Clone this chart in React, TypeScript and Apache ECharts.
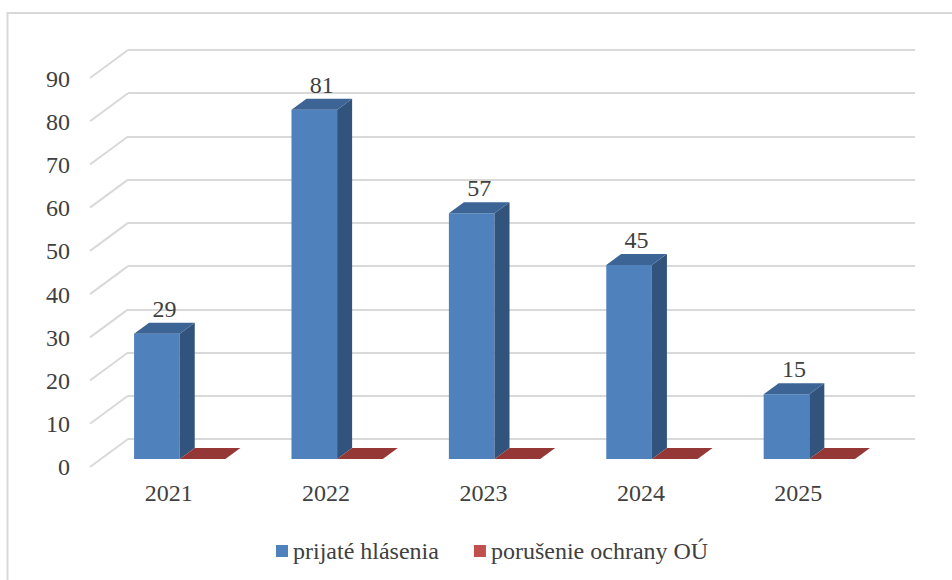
import React, { useEffect, useRef } from "react";
import * as echarts from "echarts";

const categories = ["2021", "2022", "2023", "2024", "2025"];
const receivedReports = [29, 81, 57, 45, 15];
const breaches = [0, 0, 0, 0, 0];
const yTicks = [0, 10, 20, 30, 40, 50, 60, 70, 80, 90];
const seriesNames = ["prijaté hlásenia", "porušenie ochrany OÚ"];

const FONT = "Liberation Serif";
const FONT_SIZE = 24;
const TEXT = "#404040";
const GRID_COLOR = "#D9D9D9";
const FLOOR_DX = 38;
const FLOOR_DY = 28;
const DEPTH_FRAC = 0.29;
const BAR_DX = 15;
const BAR_DY = 11;
const BAR_W_FRAC = 0.29;

function makeBarRender(side: "left" | "right", front: string, sideCol: string, top: string, showLabel: boolean) {
  return (params: any, api: any) => {
    const cat = api.value(0);
    const v = api.value(1);
    const p0 = api.coord([cat, 0]);
    const p1 = api.coord([cat, v]);
    const band = api.size([1, 0])[0];
    const w = band * BAR_W_FRAC;
    const ox = FLOOR_DX * DEPTH_FRAC;
    const oy = -FLOOR_DY * DEPTH_FRAC;
    const xL = side === "left" ? p0[0] + ox - w : p0[0] + ox;
    const xR = xL + w;
    const yB = p0[1] + oy;
    const yT = p1[1] + oy;
    const children: any[] = [];
    if (yB - yT > 0.5) {
      children.push({
        type: "polygon",
        shape: { points: [[xL, yB], [xR, yB], [xR, yT], [xL, yT]] },
        style: { fill: front },
      });
      children.push({
        type: "polygon",
        shape: { points: [[xR, yB], [xR + BAR_DX, yB - BAR_DY], [xR + BAR_DX, yT - BAR_DY], [xR, yT]] },
        style: { fill: sideCol },
      });
    }
    children.push({
      type: "polygon",
      shape: { points: [[xL, yT], [xR, yT], [xR + BAR_DX, yT - BAR_DY], [xL + BAR_DX, yT - BAR_DY]] },
      style: { fill: top },
    });
    if (showLabel) {
      children.push({
        type: "text",
        x: (xL + xR) / 2 + BAR_DX / 2,
        y: yT - BAR_DY - 14,
        style: {
          text: String(v),
          fill: TEXT,
          fontFamily: FONT,
          fontSize: FONT_SIZE,
          align: "center",
          verticalAlign: "middle",
        },
      });
    }
    return { type: "group", children };
  };
}

function App() {
  const ref = useRef<HTMLDivElement>(null);
  useEffect(() => {
    if (!ref.current) return;
    const chart = echarts.init(ref.current, undefined, { renderer: "svg" });
    const option: any = {
      animation: false,
      graphic: [
        {
          type: "rect",
          shape: { x: 7.5, y: 13, width: 1000, height: 700 },
          style: { fill: "none", stroke: GRID_COLOR, lineWidth: 2 },
          silent: true,
        },
      ],
      legend: {
        left: 276,
        top: 539,
        padding: 0,
        icon: "rect",
        itemWidth: 12,
        itemHeight: 12,
        itemGap: 35,
        data: seriesNames,
        textStyle: { fontFamily: FONT, fontSize: FONT_SIZE, color: TEXT },
      },
      grid: [
        { left: 128, top: 50, width: 787, height: 389 },
        { left: 90, top: 79, width: 787, height: 388 },
      ],
      xAxis: [
        { type: "category", gridIndex: 0, data: categories, show: false },
        {
          type: "category",
          gridIndex: 1,
          data: categories,
          axisLine: { show: false },
          axisTick: { show: false },
          axisLabel: { fontFamily: FONT, fontSize: FONT_SIZE, color: TEXT, margin: 14 },
        },
      ],
      yAxis: [
        {
          type: "value",
          gridIndex: 0,
          min: 0,
          max: 90,
          interval: 10,
          axisLine: { show: false },
          axisTick: { show: false },
          axisLabel: { show: false },
          splitLine: { show: true, showMinLine: true, showMaxLine: true, lineStyle: { color: GRID_COLOR, width: 2 } },
        },
        {
          type: "value",
          gridIndex: 1,
          min: 0,
          max: 90,
          interval: 10,
          axisLine: { show: false },
          axisTick: { show: false },
          splitLine: { show: false },
          axisLabel: { fontFamily: FONT, fontSize: FONT_SIZE, color: TEXT, margin: 20 },
        },
      ],
      series: [
        {
          type: "custom",
          name: "wall",
          xAxisIndex: 0,
          yAxisIndex: 0,
          silent: true,
          data: yTicks.map((t) => [0, t]),
          renderItem: (params: any, api: any) => {
            const y = api.coord([0, api.value(1)])[1];
            const x0 = params.coordSys.x;
            return {
              type: "line",
              shape: { x1: x0, y1: y, x2: x0 - FLOOR_DX, y2: y + FLOOR_DY },
              style: { stroke: GRID_COLOR, lineWidth: 2 },
            };
          },
        },
        {
          type: "custom",
          name: seriesNames[0],
          xAxisIndex: 1,
          yAxisIndex: 1,
          itemStyle: { color: "#4F81BD" },
          data: receivedReports.map((v, i) => [i, v]),
          renderItem: makeBarRender("left", "#4F81BD", "#32537C", "#3C6595", true),
        },
        {
          type: "custom",
          name: seriesNames[1],
          xAxisIndex: 1,
          yAxisIndex: 1,
          itemStyle: { color: "#C0504D" },
          data: breaches.map((v, i) => [i, v]),
          renderItem: makeBarRender("right", "#C0504D", "#7F2F2D", "#953735", false),
        },
      ],
    };
    chart.setOption(option);
    return () => chart.dispose();
  }, []);
  return (
    <div
      ref={ref}
      style={{ position: "fixed", left: 0, top: 0, width: 952, height: 580, background: "#fff" }}
    />
  );
}

export default App;
